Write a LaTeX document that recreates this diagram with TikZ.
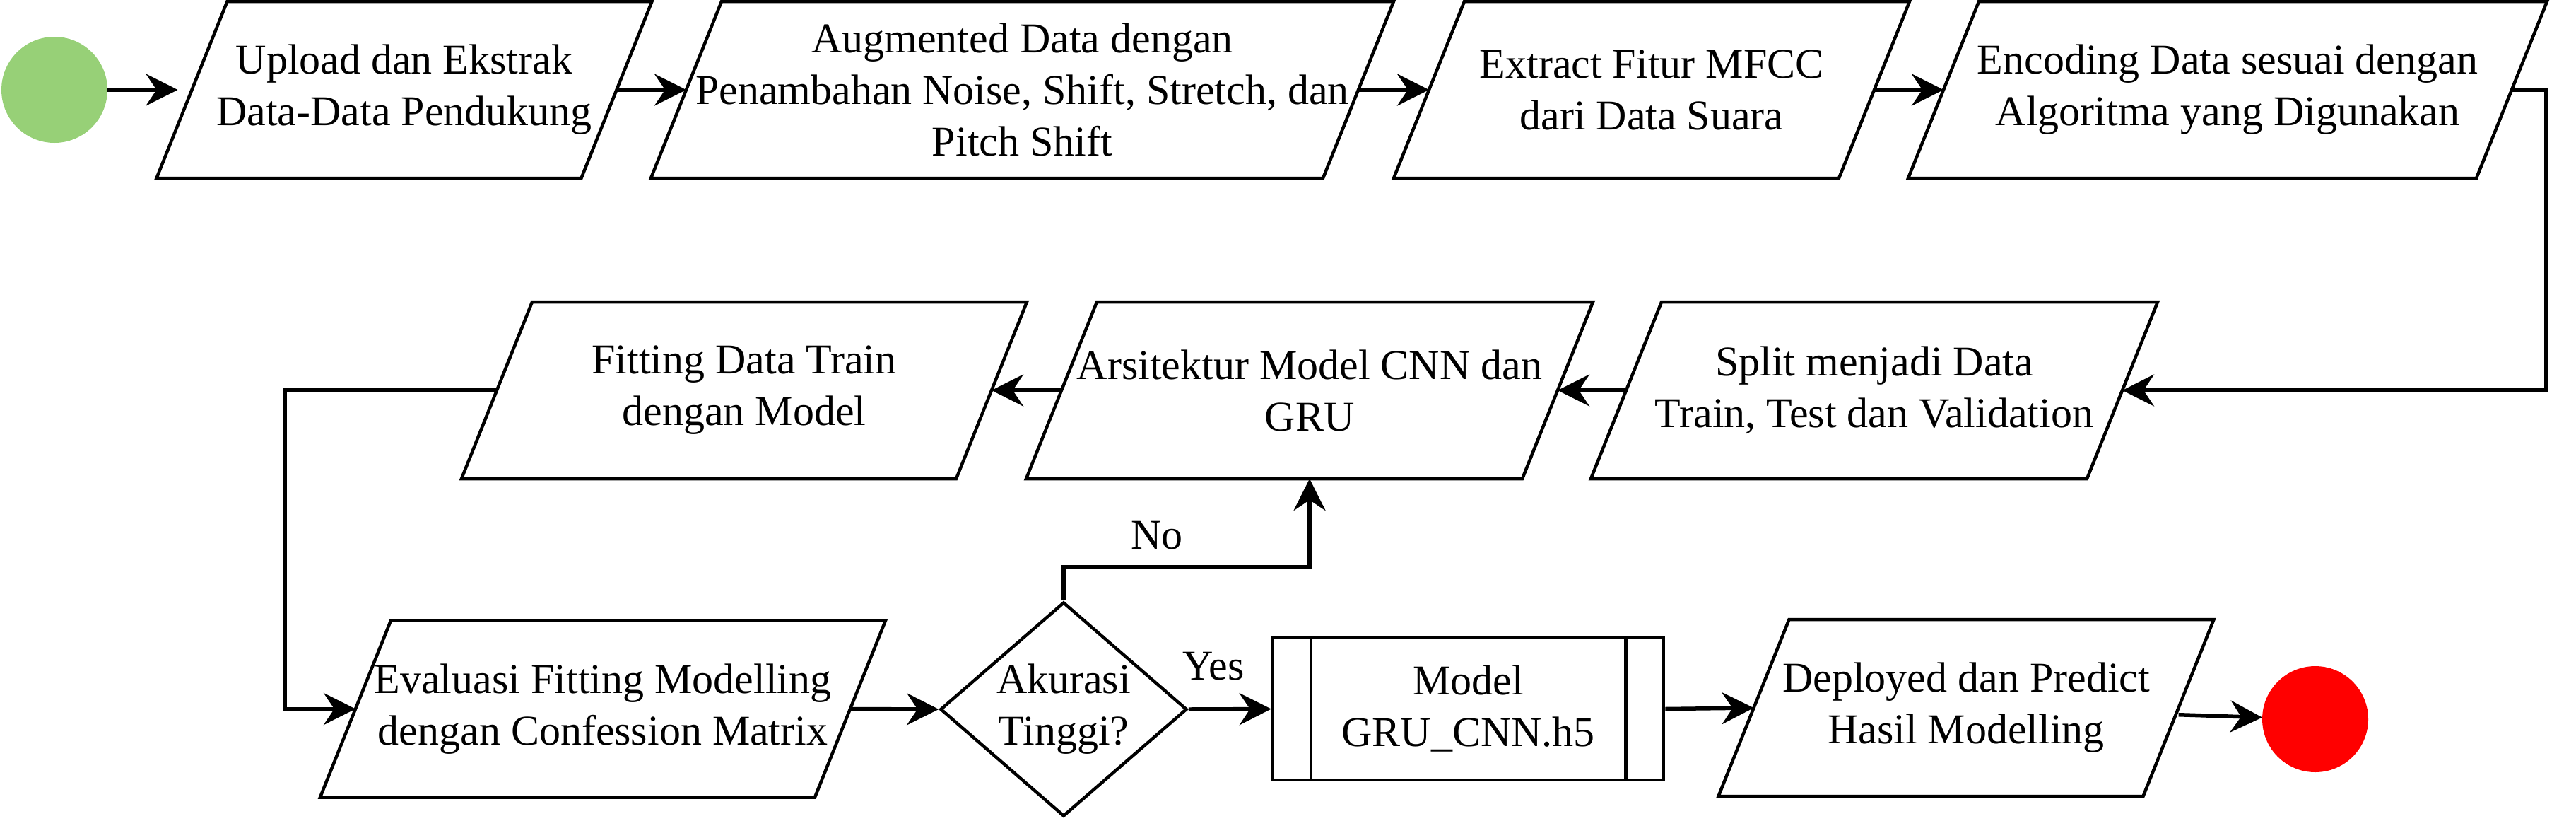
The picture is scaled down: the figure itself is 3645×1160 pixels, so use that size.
\documentclass[tikz,border=0pt]{standalone}
\usepackage{fontspec}
\setmainfont{Liberation Serif}
\usetikzlibrary{arrows.meta,shapes.geometric}

\definecolor{startgreen}{HTML}{97D077}
\definecolor{stopred}{HTML}{FF0000}

\tikzset{
  iobox/.style={rectangle, minimum height=250pt, inner sep=0pt, outer sep=0pt, align=center},
  decision/.style={diamond, draw, minimum width=349pt, minimum height=303pt, inner sep=-6pt, align=center},
  modelbox/.style={rectangle, draw, minimum width=553pt, minimum height=201pt, inner sep=0pt, align=center},
  terminal/.style={circle, minimum size=150pt, inner sep=0pt, outer sep=0pt},
  answer/.style={inner sep=0pt},
  flow/.style={->, line width=5.5pt},
}
% slanted outline round an iobox node
\newcommand{\ioframe}[1]{%
  \draw ([xshift=50pt]#1.north west) -- ([xshift=50pt]#1.north east)
    -- ([xshift=-50pt]#1.south east) -- ([xshift=-50pt]#1.south west) -- cycle;}

\begin{document}
\begin{tikzpicture}[>={Stealth[length=45pt,width=45pt,inset=15pt]}, x=1pt, y=-1pt,
  line join=miter, font=\fontsize{60}{73}\selectfont]
  \pgfsetlinewidth{4.5pt}
  \useasboundingbox (0,0) rectangle (3645,1160);
%%
  % Node: start
  \node[terminal, fill=startgreen] (start) at (77,127) {};
  % Node: upload
  \node[iobox, minimum width=601pt] (upload) at (572,127) {Upload dan Ekstrak\\Data-Data Pendukung};
  \ioframe{upload}
  % Node: augment
  \node[iobox, minimum width=951pt] (augment) at (1446.5,127) {Augmented Data dengan\\Penambahan Noise, Shift, Stretch, dan\\Pitch Shift};
  \ioframe{augment}
  % Node: mfcc
  \node[iobox, minimum width=630pt] (mfcc) at (2337,127) {Extract Fitur MFCC\\dari Data Suara};
  \ioframe{mfcc}
  % Node: encode
  \node[iobox, minimum width=804pt] (encode) at (3152,127) {Encoding Data sesuai dengan\\Algoritma yang Digunakan};
  \ioframe{encode}
  % Node: split
  \node[iobox, minimum width=702pt] (split) at (2652,552) {Split menjadi Data\\Train, Test dan Validation};
  \ioframe{split}
  % Node: arch
  \node[iobox, minimum width=702pt] (arch) at (1853,552) {Arsitektur Model CNN dan\\GRU};
  \ioframe{arch}
  % Node: fit
  \node[iobox, minimum width=700pt] (fit) at (1053,552) {Fitting Data Train\\dengan Model};
  \ioframe{fit}
  % Node: eval
  \node[iobox, minimum width=700pt] (eval) at (853,1002.5) {Evaluasi Fitting Modelling\\dengan Confession Matrix};
  \ioframe{eval}
  % Node: acc
  \node[decision] (acc) at (1505,1003) {Akurasi\\Tinggi?};
  % Node: model
  \node[modelbox] (model) at (2077.5,1002.5) {Model\\GRU\_CNN.h5};
  \draw ([xshift=56pt]model.north west) -- ([xshift=56pt]model.south west);
  \draw ([xshift=-56pt]model.north east) -- ([xshift=-56pt]model.south east);
  % Node: deploy
  \node[iobox, minimum width=601pt] (deploy) at (2782,1001) {Deployed dan Predict\\Hasil Modelling};
  \ioframe{deploy}
  % Node: stop
  \node[terminal, fill=stopred] (stop) at (3276,1017) {};
%%
  \coordinate (turn) at (3603,127);
  \coordinate (loop) at (403,552);
  \coordinate (nobend) at (1505,802);
  % Edge: start -> upload
  \draw[flow] (start.east) -- ([xshift=-20pt]upload.west);
  % Edge: upload -> augment
  \draw[flow] (upload.east) -- (augment.west);
  % Edge: augment -> mfcc
  \draw[flow] (augment.east) -- (mfcc.west);
  % Edge: mfcc -> encode
  \draw[flow] (mfcc.east) -- (encode.west);
  % Edge: encode -> split
  \draw[flow] (encode.east) -- (turn) |- (split.east);
  % Edge: split -> arch
  \draw[flow] (split.west) -- (arch.east);
  % Edge: arch -> fit
  \draw[flow] (arch.west) -- (fit.east);
  % Edge: fit -> eval
  \draw[flow] (fit.west) -- (loop) |- (eval.west);
  % Edge: eval -> acc
  \draw[flow] (eval.east) -- (acc.west);
  % Edge: acc -> arch (No)
  \draw[flow] (acc.north) -- (nobend) -| (arch.south) node[answer, pos=0.19, above=22pt] {No};
  % Edge: acc -> model (Yes)
  \draw[flow] (acc.east) -- (model.west) node[answer, pos=0.3, above=38pt] {Yes};
  % Edge: model -> deploy
  \draw[flow] (model.east) -- (deploy.west);
  % Edge: deploy -> stop
  \draw[flow] (deploy) -- (stop);
%
\end{tikzpicture}
\end{document}
